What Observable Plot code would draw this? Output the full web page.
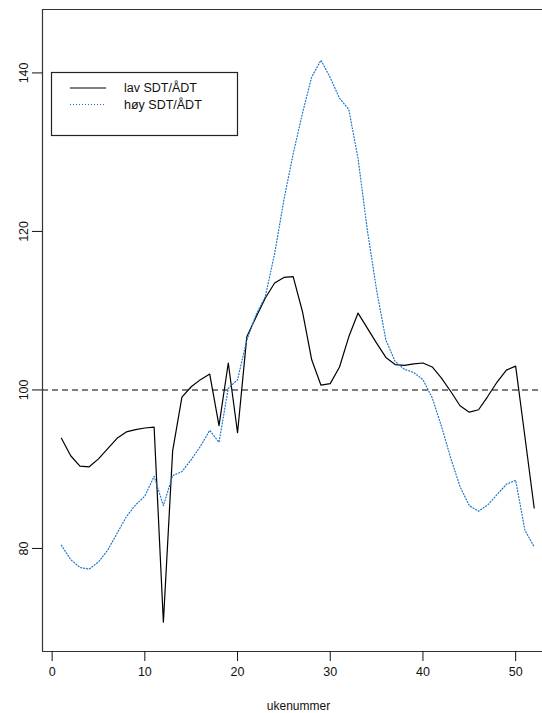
<!DOCTYPE html>
<html>
<head>
<meta charset="utf-8">
<script src="https://cdn.jsdelivr.net/npm/d3@7"></script>
<script src="https://cdn.jsdelivr.net/npm/@observablehq/plot@0.6"></script>
<style>
  html, body { margin: 0; padding: 0; background: #fff; }
  #chart { width: 542px; height: 713px; overflow: hidden; }
</style>
</head>
<body>
<div id="chart"></div>
<script>
// Ukenummer 1–52
const weeks = d3.range(1, 53);

// Indeks for lav SDT/ÅDT
const lav = [
  93.9, 91.7, 90.4, 90.3, 91.3, 92.6, 93.9, 94.7, 95.0, 95.2,
  95.3, 70.7, 92.3, 99.1, 100.4, 101.3, 102.0, 95.5, 103.4, 94.6,
  106.7, 109.2, 111.6, 113.5, 114.2, 114.3, 109.9, 103.8, 100.6, 100.8,
  102.9, 106.7, 109.7, 107.8, 105.9, 104.1, 103.2, 103.1, 103.3, 103.4,
  102.9, 101.5, 99.8, 98.0, 97.2, 97.5, 99.2, 101.0, 102.5, 103.0,
  94.1, 85.1
];

// Indeks for høy SDT/ÅDT
const hoy = [
  80.4, 78.6, 77.6, 77.4, 78.3, 79.8, 81.9, 84.0, 85.5, 86.6,
  89.1, 85.4, 89.2, 89.7, 91.2, 92.9, 94.9, 93.4, 100.2, 101.3,
  106.3, 109.5, 111.8, 117.2, 124.0, 129.8, 134.9, 139.5, 141.6, 139.4,
  136.8, 135.4, 129.2, 120.2, 112.6, 106.3, 103.6, 102.6, 102.2, 101.3,
  99.0, 95.4, 91.4, 87.8, 85.4, 84.7, 85.5, 86.8, 88.1, 88.6,
  82.3, 80.2
];

const seriesNames = ["lav SDT/ÅDT", "høy SDT/ÅDT"];
const seriesColors = ["#000000", "#1874CD"];
const seriesDash = [null, "1,2"];

const xTicks = [0, 10, 20, 30, 40, 50];
const yTicks = [80, 100, 120, 140];
const refLevel = 100;

// Axis limits in the style of R's 4 % padding
const xLim = [-1.04, 54.04];
const yLim = [67, 148];

const rows = (vals, name) => weeks.map((w, i) => ({uke: w, verdi: vals[i], serie: name}));
const lavRows = rows(lav, seriesNames[0]);
const hoyRows = rows(hoy, seriesNames[1]);

const font = "'Liberation Sans', Arial, Helvetica, sans-serif";

// The plot region runs past the right edge of the page, so the x range is wider than the SVG
const chart = Plot.plot({
  width: 542,
  height: 713,
  marginLeft: 42,
  marginRight: 0,
  marginTop: 9,
  marginBottom: 62,
  x: {domain: xLim, range: [42, 552.6]},
  y: {domain: yLim},
  style: {fontFamily: font, fontSize: "12.5px", background: "#fff", color: "#111"},
  marks: [
    Plot.ruleY([refLevel], {stroke: "#555", strokeWidth: 1.4, strokeDasharray: "6,4"}),
    Plot.line(lavRows, {x: "uke", y: "verdi", stroke: seriesColors[0], strokeWidth: 1.2}),
    Plot.line(hoyRows, {x: "uke", y: "verdi", stroke: seriesColors[1], strokeWidth: 1.2, strokeDasharray: seriesDash[1]}),
    // plot box (left, bottom, top)
    Plot.ruleX([xLim[0]], {stroke: "#333", strokeWidth: 1.2}),
    Plot.ruleY(yLim, {stroke: "#333", strokeWidth: 1.2}),
    Plot.axisX({ticks: xTicks, tickSize: 10, tickPadding: 6, label: null, fontSize: 12.5}),
    Plot.axisY({ticks: yTicks, tickSize: 10, tickPadding: 5, tickRotate: -90, label: null, fontSize: 12.5}),
    Plot.text(["ukenummer"], {frameAnchor: "bottom", dx: 6, dy: 55, lineAnchor: "middle", fontSize: 12, fill: "#111"})
  ]
});

document.getElementById("chart").appendChild(chart);

// Legend box in the upper left of the plot region
const svg = d3.select(chart);
const lg = svg.append("g")
  .attr("font-family", font)
  .attr("font-size", 12.5)
  .attr("text-anchor", "start");
lg.append("rect")
  .attr("x", 51.5).attr("y", 72.5).attr("width", 186).attr("height", 63)
  .attr("fill", "#fff").attr("stroke", "#222").attr("stroke-width", 1.2);
seriesNames.forEach((name, i) => {
  const cy = 88 + i * 16.5;
  lg.append("line")
    .attr("x1", 70).attr("x2", 106).attr("y1", cy).attr("y2", cy)
    .attr("stroke", seriesColors[i]).attr("stroke-width", 1.2)
    .attr("stroke-dasharray", seriesDash[i]);
  lg.append("text")
    .attr("x", 124).attr("y", cy).attr("dy", "0.35em")
    .attr("text-anchor", "start")
    .attr("fill", "#111").text(name);
});
</script>
</body>
</html>
